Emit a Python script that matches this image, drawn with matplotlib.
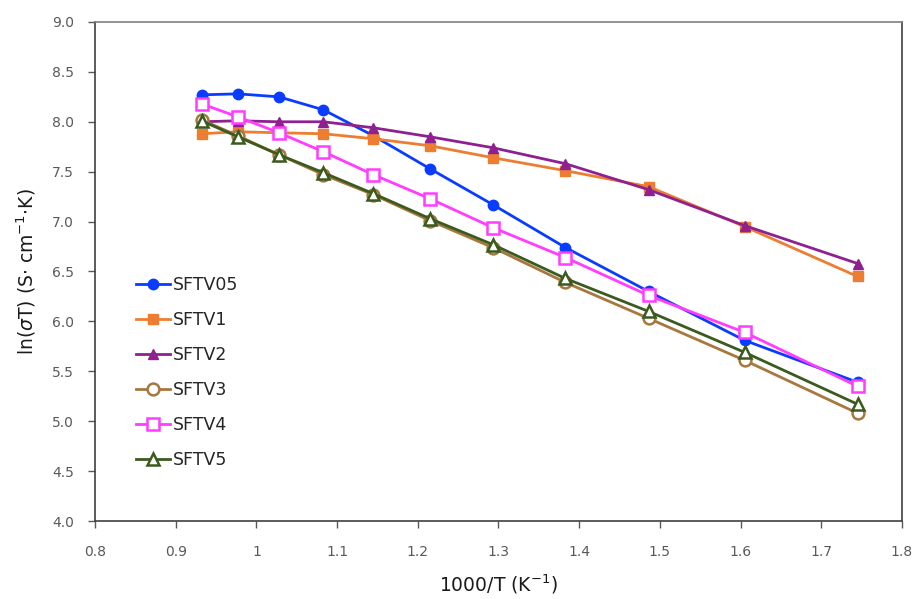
import matplotlib
matplotlib.use("Agg")
import matplotlib.pyplot as plt
from matplotlib.ticker import FuncFormatter, MultipleLocator

# 1000/T for 800 down to 300 degC in 50 degC steps
inv_temp = [0.932, 0.977, 1.028, 1.083, 1.145, 1.215, 1.293, 1.383, 1.486, 1.605, 1.745]

sftv05 = [8.27, 8.28, 8.25, 8.12, 7.86, 7.53, 7.17, 6.74, 6.30, 5.81, 5.39]
sftv1 = [7.88, 7.90, 7.89, 7.88, 7.83, 7.76, 7.64, 7.51, 7.35, 6.95, 6.45]
sftv2 = [8.00, 8.01, 8.00, 8.00, 7.94, 7.85, 7.74, 7.58, 7.32, 6.96, 6.58]
sftv3 = [8.02, 7.86, 7.67, 7.47, 7.27, 7.01, 6.74, 6.39, 6.03, 5.61, 5.08]
sftv4 = [8.18, 8.05, 7.89, 7.70, 7.47, 7.23, 6.94, 6.64, 6.26, 5.89, 5.35]
sftv5 = [8.01, 7.85, 7.67, 7.49, 7.28, 7.03, 6.77, 6.43, 6.10, 5.69, 5.17]

labels = ["SFTV05", "SFTV1", "SFTV2", "SFTV3", "SFTV4", "SFTV5"]

# (color, marker, filled, markersize)
styles = [
    ("#0A3CFF", "o", True, 7.5),
    ("#ED7D31", "s", True, 7),
    ("#8E2090", "^", True, 7.5),
    ("#A8773E", "o", False, 8.5),
    ("#FF3CFF", "s", False, 8),
    ("#3A5A1E", "^", False, 8.5),
]

plt.rcParams["font.family"] = ["DejaVu Sans"]
fig = plt.figure(figsize=(9.16, 5.99), dpi=100)
ax = fig.add_axes([0.1037, 0.1302, 0.8810, 0.8331])

series = [sftv05, sftv1, sftv2, sftv3, sftv4, sftv5]
for vals, lab, (col, mk, filled, ms) in zip(series, labels, styles):
    ax.plot(inv_temp, vals, color=col, lw=2.0, marker=mk, ms=ms,
            mfc=col if filled else "white", mec=col,
            mew=1.0 if filled else 1.8, label=lab)

ax.set_xlim(0.8, 1.8)
ax.set_ylim(4.0, 9.0)
ax.xaxis.set_major_locator(MultipleLocator(0.1))
ax.yaxis.set_major_locator(MultipleLocator(0.5))
ax.xaxis.set_major_formatter(FuncFormatter(lambda v, p: "%g" % round(v, 1)))
ax.yaxis.set_major_formatter(FuncFormatter(lambda v, p: "%.1f" % v))

ax.tick_params(direction="out", length=5, width=1.0, color="#595959",
               labelcolor="#595959", labelsize=10)
ax.tick_params(axis="x", pad=12)
ax.tick_params(axis="y", pad=10)

for side in ["left", "bottom", "right"]:
    ax.spines[side].set_color("#404040")
    ax.spines[side].set_linewidth(1.2)
ax.spines["top"].set_color("#808080")
ax.spines["top"].set_linewidth(1.2)

ax.set_xlabel("1000/T (K$^{-1}$)", fontsize=13.5, color="#1a1a1a", labelpad=10)
ax.set_ylabel(r"ln($\sigma$T) (S$\cdot$ cm$^{-1}$$\cdot$K)", fontsize=13.5,
              color="#1a1a1a", labelpad=10)

ax.legend(loc="center left", bbox_to_anchor=(0.051, 0.2975), frameon=False,
          fontsize=12.5, handlelength=1.95, handletextpad=0.15,
          labelspacing=0.98, borderpad=0, borderaxespad=0,
          labelcolor="#262626")

fig.savefig("out.png", dpi=100)
